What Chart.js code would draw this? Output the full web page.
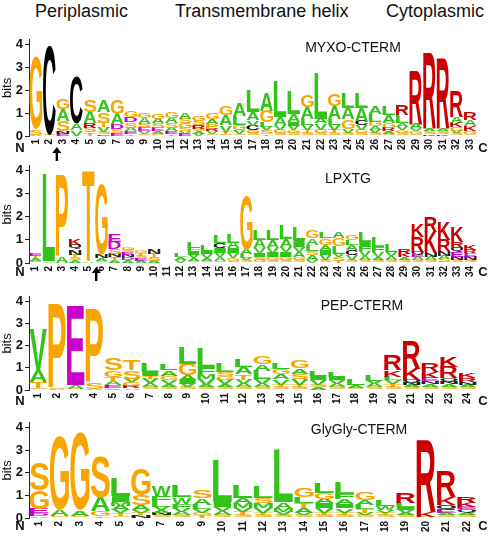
<!DOCTYPE html>
<html>
<head>
<meta charset="utf-8">
<script src="https://cdn.jsdelivr.net/npm/chart.js@4.4.1/dist/chart.umd.min.js"></script>
<style>
  html, body { margin: 0; padding: 0; background: #fff; overflow: hidden; }
  body { width: 494px; height: 541px; position: relative; font-family: "Liberation Sans", Arial, sans-serif; }
  .hdr { position: absolute; top: 1px; font-size: 18px; color: #111; white-space: nowrap; }
  canvas { position: absolute; left: 0; }
</style>
</head>
<body>
<div class="hdr" style="left:35px">Periplasmic</div>
<div class="hdr" style="left:175px">Transmembrane helix</div>
<div class="hdr" style="left:386px">Cytoplasmic</div>
<canvas id="myxo" width="494" height="136" style="top:30px"></canvas>
<canvas id="lpxtg" width="494" height="137" style="top:156px"></canvas>
<canvas id="pep" width="494" height="133" style="top:287px"></canvas>
<canvas id="glygly" width="494" height="133" style="top:413px"></canvas>
<script>
// Колонки логотипов: буквы снизу вверх, "буква + высота в битах"
const myxoCols = [
  'A.05 S.25 G3.15', 'S.05 C3.9', 'E.1 N.13 S.43 A.5 G.47', 'V.25 A.3 C2.05',
  'T.15 S.2 R.2 A.5 S.5', 'E.08 S.1 V.2 T.2 S.45 A.5', 'E.12 S.18 D.22 A.42 G.6',
  'T.1 E.1 A.14 S.25 D.24 G.3', 'S.1 V.1 E.17 S.15 A.25 G.25', 'S.1 A.1 E.15 S.2 A.2 G.25',
  'T.1 E.1 A.15 S.2 A.25 G.28', 'E.1 V.1 S.15 G.2 S.2 A.25', 'V.1 A.1 S.12 R.15 S.2 G.25',
  'S.1 V.1 R.12 P.2 A.2 G.28', 'S.08 T.1 V.3 A.45 G.42', 'S.1 V.15 G.22 L.4 A.55',
  'S.12 G.13 C.2 V.23 A.35 L.93', 'T.1 S.15 V.15 L.2 G.5 A.8', 'S.12 G.15 V.2 A.36 L1.58',
  'S.12 G.13 V.2 I.16 A.35 L1.0', 'S.12 T.15 V.2 L.28 A.5 G.5', 'S.13 G.15 V.27 A.2 L2.0',
  'S.12 T.14 V.2 L.28 A.56 G.5', 'S.14 V.18 G.42 A.5 L.64', 'S.12 G.14 V.2 C.2 A.58 L.64',
  'S.12 V.15 A.15 G.2 L.35 A.35', 'S.1 A.1 R.15 G.22 A.35 L.4', 'S.12 G.13 V.15 A.15 L.35 R.42',
  'S.1 G.1 V.13 A.2 R2.35', 'K.1 S.1 A.1 R3.3', 'K.1 S.1 A.12 R3.06',
  'S.12 V.1 G.16 K.2 A.25 R1.13', 'S.1 G.13 K.2 A.25 R.35'
];

const lpxtgCols = [
  'S.1 A.1 T.1 E.12', 'A.08 L3.78', 'A.28 P3.52', 'A.12 S.12 T.12 N.22 Q.21 K.28',
  'A.07 T3.93', 'S.1 A.1 N.16 G3.07', 'A.1 T.15 N.15 S.2 D.3 E.3', 'A.12 D.12 N.12 E.12 S.1 G.12',
  'A.1 E.1 S.12 T.12 G.13', 'A.1 S.15 T.15 N.2', '', 'V.15 A.1 L.15',
  'S.1 A.1 V.15 I.15 F.15 L.28', 'S.1 A.12 V.15 I.17 L.25', 'S.1 A.15 V.2 I.2 C.2 L.35',
  'S.1 G.13 V.2 I.2 A.25 L.4', 'S.13 V.1 L.15 A.2 G2.35', 'G.13 S.12 I.18 V.2 A.36 L.43',
  'S.12 G.12 I.2 V.2 A.35 L.43', 'S.13 G.13 I.2 V.22 A.35 L.6', 'S.13 G.13 A.2 V.22 I.33 L.55',
  'V.15 A.2 S.15 L.28 A.28 G.36', 'S.15 V.2 I.22 A.22 G.28 L.28', 'T.1 S.15 V.16 L.3 G.36 A.28',
  'S.15 V.2 C.2 A.21 L.22 G.22', 'S.15 A.15 V.2 F.2 I.2 L.43', 'S.15 A.13 V.2 F.2 L.45',
  'S.15 A.15 V.17 L.3', 'S.12 A.12 K.15 R.2', 'S.13 A.14 E.1 Q.12 R.64 K.57',
  'S.14 A.14 N.14 K.93 R.64', 'S.16 A.14 N.2 R.5 K.78', 'S.12 N.14 E.2 Q.18 R.28 K.64',
  'S.12 N.15 E.15 R.15 K.2'
];

const pepCols = [
  'S.08 T.3 A.5 V1.84', 'A.05 S.05 P3.8', 'S.05 A.17 E3.6', 'A.05 S.28 P3.35',
  'V.1 E.13 A.15 T.22 G.3 S.5', 'A.1 R.1 G.15 V.16 S.37 T.44', 'S.15 A.15 V.2 T.12 I.19 L.37',
  'S.12 A.13 V.18 G.2 A.25 L.3', 'S.12 V.14 I.2 A.2 G.5 L.74', 'S.12 A.12 V.26 M.2 F.3 L.9',
  'S.12 A.14 V.2 G.15 S.2 L.37', 'S.12 A.15 V.2 T.25 A.33 L.35', 'S.12 A.16 V.22 L.37 A.3 G.37',
  'S.12 T.12 V.24 A.22 G.25 L.3', 'S.12 T.12 V.26 S.22 A.25 G.35', 'A.12 S.12 V.2 I.2 L.24',
  'S.12 A.15 V.18 I.15 L.2', 'S.1 A.12 L.28', 'S.12 A.15 V.15 L.28',
  'S.14 T.14 V.15 L.15 K.3 R.66', 'S.12 A.1 N.12 Q.11 K.5 R1.25', 'S.14 A.14 N.12 E.14 K.27 R.37',
  'S.14 A.13 N.1 Q.15 R.5 K.45', 'S.12 A.12 N.14 R.15 K.25'
];

const glyglyCols = [
  'A.1 D.1 E.2 G.8 S1.22', 'S.1 A.27 G3.23', 'S.08 A.25 G3.41', 'T.1 G.2 A.6 S1.8',
  'S.1 T.1 V.15 A.2 M.16 I.26 L.8', 'N.12 T.12 V.1 A.21 S.43 G1.15', 'S.12 N.1 A.12 V.14 L.2 F.3 W.43',
  'S.12 A.14 V.15 F.2 W.3 L.5', 'T.12 G.12 V.15 L.2 A.27 S.34', 'S.13 A.18 V.18 I.2 L1.87',
  'S.12 T.15 V.18 M.2 A.25 L.55', 'S.12 T.12 V.2 M.23 S.2 L.53', 'S.12 V.14 M.14 A.3 L2.3',
  'S.12 V.12 A.2 T.2 L.26 G.38', 'S.12 T.12 V.2 I.2 A.2 G.28 L.45', 'S.12 T.12 V.18 I.18 A.22 F.25 L.5',
  'S.12 V.12 T.15 L.2 A.22 G.33', 'S.12 T.12 V.13 W.18 L.3', 'S.12 A.1 V.14 I.12 L.2 R.46',
  'S.06 K.2 R3.18', 'S.12 A.1 E.14 Q.2 K.36 R1.15', 'S.12 A.12 Q.15 E.08 K.2 R.25'
];

const yTicks = [0, 1, 2, 3, 4];
const yMax = 4.2;

// Цвета аминокислот
const letterColors = {
  G: '#F8A500', S: '#F8A500', T: '#F8A500', P: '#F8A500', Y: '#F8A500',
  A: '#33C41A', V: '#33C41A', L: '#33C41A', I: '#33C41A', M: '#33C41A', F: '#33C41A', W: '#33C41A',
  R: '#CC0000', K: '#CC0000', H: '#CC0000',
  D: '#CC00CC', E: '#CC00CC',
  C: '#000000', N: '#222222', Q: '#222222'
};

function parseCols(cols) {
  return cols.map(s => s.trim() ? s.trim().split(/\s+/).map(t => ({ l: t[0], h: parseFloat(t.slice(1)) })) : []);
}

function makeDatasets(cols) {
  const parsed = parseCols(cols);
  const layers = Math.max(...parsed.map(c => c.length));
  const datasets = [];
  for (let k = 0; k < layers; k++) {
    datasets.push({
      data: parsed.map(c => c[k] ? c[k].h : 0),
      letters: parsed.map(c => c[k] ? c[k].l : ''),
      backgroundColor: 'rgba(0,0,0,0)',
      borderWidth: 0,
      barPercentage: 0.94,
      categoryPercentage: 1.0,
      stack: 'logo'
    });
  }
  return datasets;
}

function drawLetter(ctx, letter, x, y, w, h) {
  if (h < 0.3 || w <= 0) return;
  ctx.save();
  ctx.font = 'bold 100px "Liberation Sans", Arial, sans-serif';
  const m = ctx.measureText(letter);
  const gw = m.actualBoundingBoxLeft + m.actualBoundingBoxRight;
  const gh = m.actualBoundingBoxAscent + m.actualBoundingBoxDescent;
  ctx.translate(x, y);
  ctx.scale(w / gw, h / gh);
  ctx.fillStyle = letterColors[letter] || '#000';
  ctx.textAlign = 'left';
  ctx.textBaseline = 'alphabetic';
  ctx.fillText(letter, m.actualBoundingBoxLeft, m.actualBoundingBoxAscent);
  ctx.restore();
}

const logoPlugin = {
  id: 'logoLetters',
  afterDatasetsDraw(chart) {
    const ctx = chart.ctx;
    chart.data.datasets.forEach((ds, i) => {
      const meta = chart.getDatasetMeta(i);
      meta.data.forEach((bar, j) => {
        const letter = ds.letters[j];
        if (!letter || !ds.data[j]) return;
        const p = bar.getProps(['x', 'y', 'base', 'width'], true);
        drawLetter(ctx, letter, p.x - p.width / 2, Math.min(p.y, p.base), p.width, Math.abs(p.base - p.y));
      });
    });
  }
};

// Подписи позиций, заголовок панели, N / C и стрелка
const decorPlugin = {
  id: 'logoDecor',
  afterDraw(chart, args, opts) {
    const ctx = chart.ctx;
    const area = chart.chartArea;
    const xs = chart.scales.x;
    ctx.save();
    ctx.fillStyle = '#111';

    // номера позиций, повернуты на 90°
    ctx.font = 'bold 10px "Liberation Sans", Arial, sans-serif';
    ctx.textAlign = 'right';
    ctx.textBaseline = 'middle';
    chart.data.labels.forEach((lab, i) => {
      ctx.save();
      ctx.translate(xs.getPixelForTick(i), area.bottom + 3);
      ctx.rotate(-Math.PI / 2);
      ctx.fillText(lab, 0, 0);
      ctx.restore();
    });

    ctx.textAlign = 'center';
    ctx.font = '14px "Liberation Sans", Arial, sans-serif';
    ctx.fillText(opts.title, opts.tx, opts.ty);
    ctx.font = 'bold 13px "Liberation Sans", Arial, sans-serif';
    ctx.fillText('N', 20, area.bottom + opts.ncY);
    ctx.fillText('C', 483, area.bottom + opts.ncY);
    if (opts.arrowAt != null) {
      const n = chart.data.labels.length;
      const ax = xs.left + (opts.arrowAt + 0.5) * (xs.width / n);
      const top = area.bottom + opts.arrowTop;
      ctx.fillStyle = '#000';
      ctx.beginPath();
      ctx.moveTo(ax, top);
      ctx.lineTo(ax - 4.5, top + 6);
      ctx.lineTo(ax + 4.5, top + 6);
      ctx.closePath();
      ctx.fill();
      ctx.fillRect(ax - 1.2, top + 5, 2.4, 9);
    }
    ctx.restore();
  }
};

function makeLogo(id, cols, padTop, xHeight, decor) {
  const labels = cols.map((c, i) => String(i + 1));
  return new Chart(document.getElementById(id), {
    type: 'bar',
    data: { labels: labels, datasets: makeDatasets(cols) },
    options: {
      responsive: false,
      animation: false,
      devicePixelRatio: 1,
      layout: { padding: { top: padTop, right: 17, left: 0, bottom: 0 } },
      plugins: {
        legend: { display: false },
        tooltip: { enabled: false },
        logoDecor: decor
      },
      scales: {
        x: {
          stacked: true,
          grid: { display: false },
          border: { display: false },
          ticks: { display: false },
          afterFit: s => { s.height = xHeight; }
        },
        y: {
          stacked: true,
          min: 0,
          max: yMax,
          afterBuildTicks: axis => { axis.ticks = yTicks.map(v => ({ value: v })); },
          grid: { drawOnChartArea: false, drawTicks: true, tickLength: 4, color: '#222' },
          border: { display: true, color: '#222', width: 1 },
          ticks: {
            includeBounds: false, padding: 2, color: '#111',
            font: { family: '"Liberation Sans", Arial', size: 13, weight: 'bold' }
          },
          title: {
            display: true, text: 'bits', padding: 0, color: '#111',
            font: { family: '"Liberation Sans", Arial', size: 13 }
          },
          afterFit: s => { s.width = 29; }
        }
      }
    },
    plugins: [logoPlugin, decorPlugin]
  });
}

makeLogo('myxo', myxoCols, 7.3, 30, { title: 'MYXO-CTERM', tx: 353, ty: 18, ncY: 12, arrowAt: 1.55, arrowTop: 11 });
makeLogo('lpxtg', lpxtgCols, 7.25, 30, { title: 'LPXTG', tx: 348, ty: 23, ncY: 9, arrowAt: 4.6, arrowTop: 4 });
makeLogo('pep', pepCols, 7.45, 30, { title: 'PEP-CTERM', tx: 362, ty: 19, ncY: 11, arrowAt: null });
makeLogo('glygly', glyglyCols, 7.35, 28, { title: 'GlyGly-CTERM', tx: 359, ty: 17, ncY: 8, arrowAt: null });
</script>
</body>
</html>
